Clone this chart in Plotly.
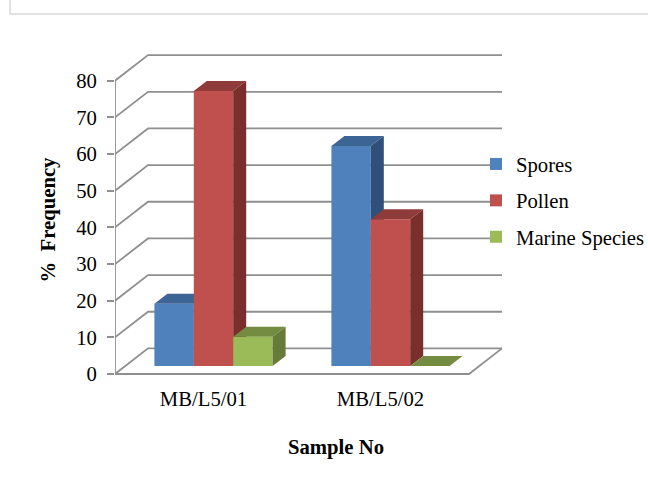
import plotly.graph_objects as go

categories = ["MB/L5/01", "MB/L5/02"]
spores = [17, 60]
pollen = [75, 40]
marine = [8, 0]
y_ticks = [0, 10, 20, 30, 40, 50, 60, 70, 80]

series = [
    ("Spores", spores, "#4f81bd", "#3c6494", "#2f5078", -1),
    ("Pollen", pollen, "#c0504d", "#8f3b39", "#7b2f2d", 0),
    ("Marine Species", marine, "#9bbb59", "#748c42", "#667b3a", 1),
]

W, H = 648, 500
PX0, PX1 = 115, 557      # plot area, pixels
PY0, PY1 = 50, 390
Y0_PX = 374              # pixel row of value 0
PPU_Y = 3.666            # pixels per value unit
PPU_X = 177              # pixels per category
GRAY = "#8f8f8f"

xr = [-0.5, -0.5 + (PX1 - PX0) / PPU_X]
yr = [-(PY1 - Y0_PX) / PPU_Y, (Y0_PX - PY0) / PPU_Y]
dom_x = [PX0 / W, PX1 / W]
dom_y = [1 - PY1 / H, 1 - PY0 / H]

WALL_DX, WALL_DY = 33 / PPU_X, 25.6 / PPU_Y
BAR_DX, BAR_DY = 13 / PPU_X, 10 / PPU_Y
FLOOR_OFF_X, BASE = 10 / PPU_X, 8 / PPU_Y
BAR_W = 39.4 / PPU_X
X_END = 1.5                                 # front right edge of the floor

fig = go.Figure()

# walls and floor
for v in y_ticks:
    xs = [-0.5, -0.5 + WALL_DX, X_END + WALL_DX]
    ys = [v, v + WALL_DY, v + WALL_DY]
    fig.add_trace(go.Scatter(x=xs, y=ys, mode="lines", line=dict(color=GRAY, width=1.8),
                             showlegend=False, hoverinfo="skip"))
fig.add_trace(go.Scatter(x=[-0.5, -0.5], y=[0, y_ticks[-1]], mode="lines",
                         line=dict(color=GRAY, width=1.8), showlegend=False, hoverinfo="skip"))
fig.add_trace(go.Scatter(x=[-0.5, X_END, X_END + WALL_DX], y=[0, 0, WALL_DY], mode="lines",
                         line=dict(color=GRAY, width=1.8), showlegend=False, hoverinfo="skip"))

# one overlaid subplot per series, so later series cover earlier ones
for i, (name, vals, front, top, side, off) in enumerate(series):
    ax = i + 2
    xa, ya = f"x{ax}", f"y{ax}"
    centers = [c + FLOOR_OFF_X + off * BAR_W for c in range(len(categories))]
    fig.add_trace(go.Bar(x=centers, y=vals, base=[BASE] * len(vals), width=BAR_W, name=name,
                         marker=dict(color=front, line=dict(width=0)), legendgroup=name,
                         xaxis=xa, yaxis=ya, hovertext=categories))
    for c, v in zip(centers, vals):
        l, r, t, b = c - BAR_W / 2, c + BAR_W / 2, BASE + v, BASE
        fig.add_trace(go.Scatter(x=[l, r, r + BAR_DX, l + BAR_DX, l],
                                 y=[t, t, t + BAR_DY, t + BAR_DY, t],
                                 fill="toself", fillcolor=top, mode="lines", line=dict(width=0, color=top),
                                 showlegend=False, hoverinfo="skip", legendgroup=name, xaxis=xa, yaxis=ya))
        fig.add_trace(go.Scatter(x=[r, r + BAR_DX, r + BAR_DX, r, r],
                                 y=[b, b + BAR_DY, t + BAR_DY, t, b],
                                 fill="toself", fillcolor=side, mode="lines", line=dict(width=0, color=side),
                                 showlegend=False, hoverinfo="skip", legendgroup=name, xaxis=xa, yaxis=ya))

FONT = "Liberation Serif"
FS = 20.7
layout_axes = {}
for ax in (2, 3, 4):
    layout_axes[f"xaxis{ax}"] = dict(overlaying="x", domain=dom_x, range=xr, visible=False, anchor=f"y{ax}")
    layout_axes[f"yaxis{ax}"] = dict(overlaying="y", domain=dom_y, range=yr, visible=False, anchor=f"x{ax}")

fig.update_layout(
    width=W, height=H, margin=dict(l=0, r=0, t=0, b=0, autoexpand=False),
    paper_bgcolor="white", plot_bgcolor="rgba(0,0,0,0)",
    font=dict(family=FONT, size=FS, color="black"),
    barmode="overlay",
    xaxis=dict(domain=dom_x, range=xr, anchor="free", position=1 - Y0_PX / H, tickmode="array",
               tickvals=list(range(len(categories))), ticktext=categories, showgrid=False,
               zeroline=False, showline=False, ticks="", ticklabelstandoff=10,
               title=dict(text="<b>Sample No</b>", standoff=30, font=dict(size=FS))),
    yaxis=dict(domain=dom_y, range=yr, tickmode="array", tickvals=y_ticks, showgrid=False,
               zeroline=False, showline=False, ticks="outside", ticklen=7, tickcolor=GRAY, tickwidth=1.8,
               ticklabelstandoff=6,
               title=dict(text="<b>%\u00a0\u00a0Frequency</b>", standoff=14, font=dict(size=FS))),
    legend=dict(x=476 / W, y=1 - 144 / H, xanchor="left", yanchor="top", bgcolor="rgba(0,0,0,0)",
                tracegroupgap=6.5, font=dict(size=FS)),
    shapes=[
        dict(type="rect", xref="paper", yref="paper", x0=495 / W, x1=560 / W, y0=1 - 255 / H, y1=1 - 150 / H,
             fillcolor="white", line=dict(width=0), layer="above"),
        dict(type="path", xref="paper", yref="paper",
             path=f"M {10/W} {1} L {10/W} {1-14/H} L {1} {1-14/H}",
             line=dict(color="#d9d9d9", width=1.5), layer="below"),
    ],
    **layout_axes,
)

fig.write_html("out.html", config={"displayModeBar": False},
               post_script="document.body.style.margin='0';document.body.style.overflow='hidden';")
